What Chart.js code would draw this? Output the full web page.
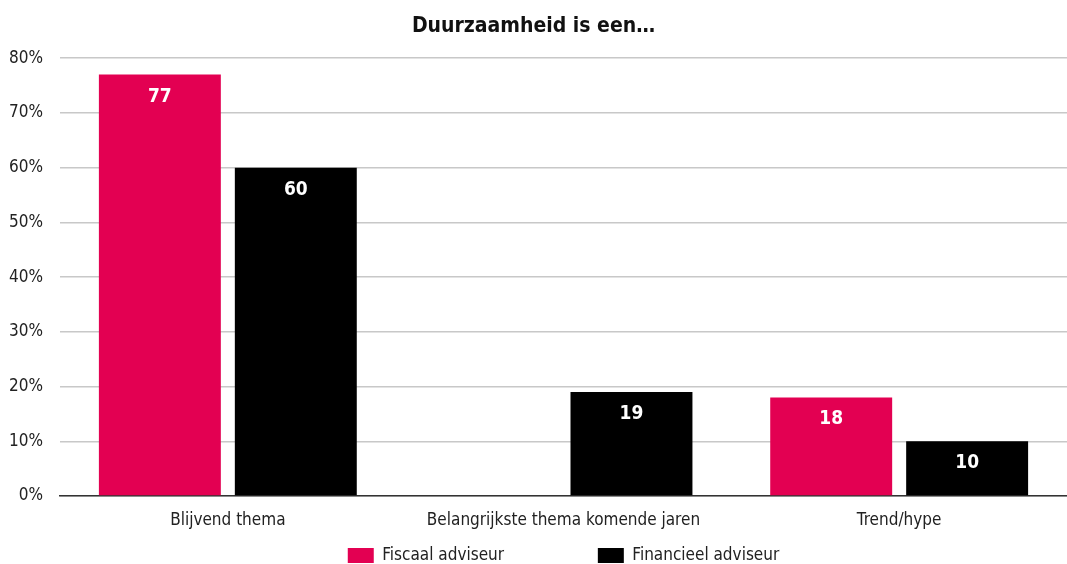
<!DOCTYPE html>
<html>
<head>
<meta charset="utf-8">
<script src="https://cdn.jsdelivr.net/npm/chart.js@4"></script>
<style>
  html, body { margin: 0; padding: 0; background: #fff; }
  #wrap { width: 1067px; height: 564px; }
</style>
</head>
<body>
<div id="wrap"><canvas id="chart"></canvas></div>
<script>
// categories and series
const categories = ['Blijvend thema', 'Belangrijkste thema komende jaren', 'Trend/hype'];
const fiscaalValues = [77, null, 18];
const financieelValues = [60, 19, 10];
const seriesNames = ['Fiscaal adviseur', 'Financieel adviseur'];
const yTicks = [0, 10, 20, 30, 40, 50, 60, 70, 80];

const FONT = "'DejaVu Sans Condensed', sans-serif";

// white value labels near the top of each bar
const barLabels = {
  id: 'barLabels',
  afterDatasetsDraw(chart) {
    const ctx = chart.ctx;
    ctx.save();
    ctx.fillStyle = '#fff';
    ctx.font = 'bold 19px ' + FONT;
    ctx.textAlign = 'center';
    ctx.textBaseline = 'middle';
    chart.data.datasets.forEach((ds, i) => {
      chart.getDatasetMeta(i).data.forEach((bar, j) => {
        const v = ds.data[j];
        if (v == null) return;
        ctx.fillText(String(v), bar.x, bar.y + 22);
      });
    });
    ctx.restore();
  }
};

// legend is centred under the plot area, not the whole canvas
const centerLegend = {
  id: 'centerLegend',
  afterLayout(chart) {
    const lg = chart.legend, ca = chart.chartArea;
    const shift = (ca.left + ca.right) / 2 - (lg.left + lg.right) / 2;
    lg.left += shift;
    lg.right += shift;
  }
};

new Chart(document.getElementById('chart'), {
  type: 'bar',
  data: {
    labels: categories,
    datasets: [
      { label: seriesNames[0], data: fiscaalValues, backgroundColor: '#e30052' },
      { label: seriesNames[1], data: financieelValues, backgroundColor: '#000000' }
    ]
  },
  options: {
    responsive: true,
    maintainAspectRatio: false,
    animation: false,
    categoryPercentage: 0.81,
    barPercentage: 0.897,
    layout: { padding: 0 },
    scales: {
      x: {
        grid: { display: false },
        border: { display: true, color: '#333', width: 1.5 },
        ticks: { color: '#222', font: { family: FONT, size: 17 }, padding: 6 },
        afterFit(axis) { axis.height = 49; }
      },
      y: {
        min: 0,
        max: 80,
        afterBuildTicks(axis) { axis.ticks = yTicks.map(v => ({ value: v })); },
        afterFit(axis) { axis.width = 60; },
        border: { display: false },
        grid: { color: '#c8c8c8', lineWidth: 1.5, drawTicks: false },
        ticks: {
          color: '#222',
          font: { family: FONT, size: 17 },
          padding: 17,
          callback: v => v + '%'
        }
      }
    },
    plugins: {
      title: {
        display: true,
        text: 'Duurzaamheid is een…',
        color: '#111',
        font: { family: FONT, size: 21, weight: 'bold' },
        padding: { top: 14, bottom: 19 }
      },
      legend: {
        position: 'bottom',
        maxHeight: 19,
        labels: {
          color: '#222',
          font: { family: FONT, size: 17 },
          boxWidth: 26,
          boxHeight: 15,
          padding: 2,
          generateLabels(chart) {
            const items = Chart.defaults.plugins.legend.labels.generateLabels(chart);
            items[0].text = items[0].text + '\u2003\u2003\u2003\u2003\u2003\u2003';
            return items;
          }
        }
      },
      tooltip: { enabled: false }
    }
  },
  plugins: [barLabels, centerLegend]
});
</script>
</body>
</html>
